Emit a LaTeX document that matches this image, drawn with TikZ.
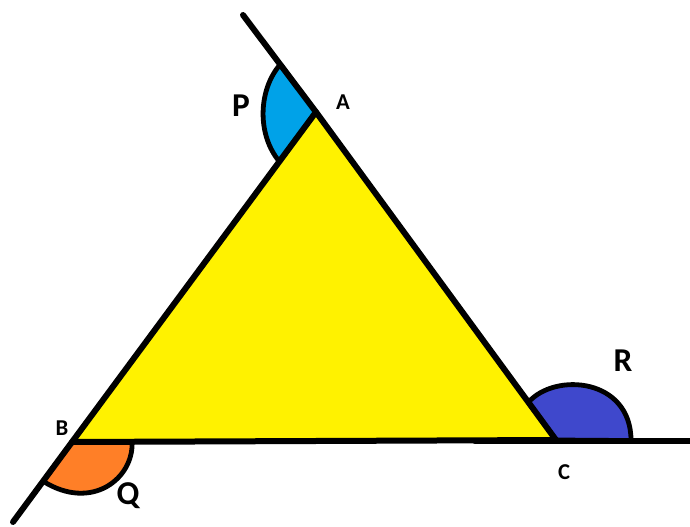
\documentclass[tikz,border=0pt]{standalone}
\usepackage{fontspec}
\setmainfont{Carlito}
\usetikzlibrary{calc}
\definecolor{triyellow}{HTML}{FFF200}
\definecolor{pcyan}{HTML}{00A2E8}
\definecolor{qorange}{HTML}{FF7F27}
\definecolor{rblue}{HTML}{3F48CC}
\tikzset{
  edge/.style={line width=4.5pt, line cap=round, line join=round},
  sector/.style={line width=3.6pt, line join=round},
  biglbl/.style={font=\bfseries\fontsize{25}{25}\selectfont, inner sep=0pt},
  smalllbl/.style={font=\bfseries\fontsize{17}{17}\selectfont, inner sep=0pt}
}
\begin{document}
\begin{tikzpicture}[x=0.75pt, y=-0.75pt]
\useasboundingbox (0,0) rectangle (690,526);
% vertices and ray ends
\coordinate (A) at (316,112);
\coordinate (B) at (72,442);
\coordinate (C) at (556,440);
\coordinate (U) at (243,15);
\coordinate (L) at (13,522);
\coordinate (S) at (475,441);
\coordinate (E) at (690,441);
% triangle
\fill[triyellow] (A) -- (B) -- (C) -- cycle;
% angle P
\coordinate (P1) at ($(A)!0.49!(U)$);
\coordinate (P2) at ($(A)!0.15!(B)$);
\filldraw[sector, fill=pcyan] (A) -- (P1) .. controls (258,90) and (257,135) .. (P2) -- cycle;
% angle Q
\coordinate (Q1) at ($(B)!0.124!(C)$);
\coordinate (Q2) at ($(B)!0.49!(L)$);
\filldraw[sector, fill=qorange] (B) -- (Q1) .. controls (134,478) and (92,512) .. (Q2) -- cycle;
% angle R
\coordinate (R1) at ($(A)!0.885!(C)$);
\coordinate (R2) at ($(C)!0.56!(E)$);
\filldraw[sector, fill=rblue] (C) -- (R1) .. controls (555,372) and (631,378) .. (R2) -- cycle;
% lines
\draw[edge] (U) -- (A) -- (C);
\draw[edge] (A) -- (B) -- (L);
\draw[edge] (B) -- (C);
\draw[edge] (S) -- (E);
% labels
\node[biglbl] (lp) at (241,106) {P};
\node[smalllbl] (la) at (343,102) {A};
\node[smalllbl] (lb) at (62,428) {B};
\node[biglbl] (lq) at (128,496) {Q};
\node[biglbl] (lr) at (623,361) {R};
\node[smalllbl] (lc) at (564,472) {C};
\end{tikzpicture}
\end{document}
